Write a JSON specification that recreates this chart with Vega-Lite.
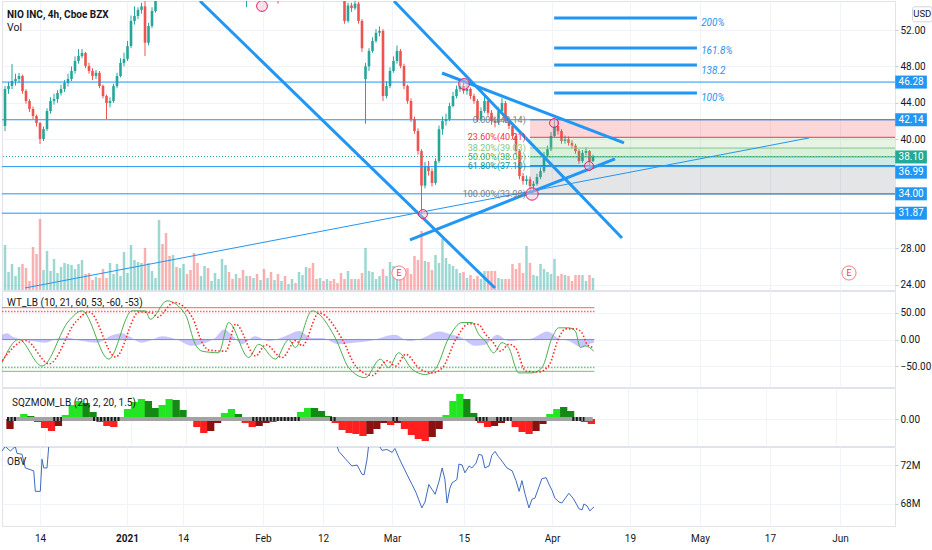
{
  "$schema": "https://vega.github.io/schema/vega-lite/v6.json",
  "padding": 0,
  "spacing": -1,
  "background": "#ffffff",
  "config": {
    "font": "Roboto, sans-serif",
    "view": {"stroke": "#e0e3eb"},
    "axis": {"title": null, "domain": false, "gridColor": "#f0f3fa", "labelColor": "#131722", "labelFontSize": 10, "labelFont": "Roboto, sans-serif", "tickColor": "#c9ccd4", "tickSize": 3, "labelOverlap": false, "labelFlush": false}
  },
  "resolve": {"scale": {"x": "independent", "y": "independent", "color": "independent", "size": "independent"}},
  "datasets": {
    "bars": [
      {"i":-10,"o":41.45,"h":45.85,"l":40.9,"c":45.52,"v":45},
      {"i":-9,"o":45.52,"h":46.3,"l":45.0,"c":45.85,"v":18},
      {"i":-8,"o":45.85,"h":48.27,"l":45.5,"c":46.4,"v":26},
      {"i":-7,"o":46.4,"h":47.2,"l":45.9,"c":46.62,"v":14},
      {"i":-6,"o":46.62,"h":47.28,"l":46.2,"c":46.95,"v":23},
      {"i":-5,"o":46.95,"h":47.1,"l":45.0,"c":45.3,"v":26},
      {"i":-4,"o":45.3,"h":45.5,"l":43.9,"c":44.2,"v":22},
      {"i":-3,"o":44.2,"h":44.4,"l":43.0,"c":43.32,"v":9},
      {"i":-2,"o":43.32,"h":43.6,"l":42.2,"c":42.55,"v":43},
      {"i":-1,"o":42.55,"h":42.7,"l":41.4,"c":41.78,"v":36},
      {"i":0,"o":41.78,"h":41.9,"l":39.48,"c":40.03,"v":71},
      {"i":1,"o":40.03,"h":41.4,"l":39.8,"c":41.12,"v":20},
      {"i":2,"o":41.12,"h":43.4,"l":40.9,"c":43.1,"v":39},
      {"i":3,"o":43.1,"h":44.6,"l":42.8,"c":44.2,"v":19},
      {"i":4,"o":44.2,"h":45.0,"l":43.8,"c":44.42,"v":31},
      {"i":5,"o":44.42,"h":45.4,"l":44.0,"c":45.08,"v":17},
      {"i":6,"o":45.08,"h":46.0,"l":44.8,"c":45.52,"v":23},
      {"i":7,"o":45.52,"h":46.5,"l":45.2,"c":46.18,"v":27},
      {"i":8,"o":46.18,"h":47.2,"l":45.8,"c":46.62,"v":26},
      {"i":9,"o":46.62,"h":48.0,"l":46.4,"c":47.5,"v":25},
      {"i":10,"o":47.5,"h":49.1,"l":47.2,"c":48.6,"v":21},
      {"i":11,"o":48.6,"h":49.9,"l":48.3,"c":49.15,"v":26},
      {"i":12,"o":49.15,"h":49.92,"l":48.9,"c":49.48,"v":30},
      {"i":13,"o":49.48,"h":49.6,"l":47.8,"c":48.05,"v":16},
      {"i":14,"o":48.05,"h":48.4,"l":47.2,"c":47.5,"v":17},
      {"i":15,"o":47.5,"h":47.8,"l":46.5,"c":46.95,"v":10},
      {"i":16,"o":46.95,"h":47.6,"l":46.6,"c":47.3,"v":13},
      {"i":17,"o":47.3,"h":47.5,"l":45.6,"c":45.85,"v":12},
      {"i":18,"o":45.85,"h":46.0,"l":44.5,"c":44.75,"v":21},
      {"i":19,"o":44.75,"h":44.9,"l":42.2,"c":43.98,"v":12},
      {"i":20,"o":43.98,"h":44.6,"l":43.5,"c":44.2,"v":27},
      {"i":21,"o":44.2,"h":46.1,"l":44.0,"c":45.85,"v":16},
      {"i":22,"o":45.85,"h":47.3,"l":45.6,"c":46.95,"v":26},
      {"i":23,"o":46.95,"h":48.9,"l":46.8,"c":48.38,"v":14},
      {"i":24,"o":48.38,"h":49.5,"l":48.0,"c":48.82,"v":38},
      {"i":25,"o":48.82,"h":50.8,"l":48.6,"c":50.24,"v":17},
      {"i":26,"o":50.24,"h":53.6,"l":50.0,"c":53.0,"v":45},
      {"i":27,"o":53.0,"h":54.6,"l":52.6,"c":53.54,"v":30},
      {"i":28,"o":53.54,"h":54.5,"l":53.2,"c":54.2,"v":28},
      {"i":29,"o":54.2,"h":55.0,"l":53.8,"c":54.6,"v":27},
      {"i":30,"o":54.6,"h":55.8,"l":49.15,"c":50.6,"v":42},
      {"i":31,"o":50.6,"h":52.8,"l":50.3,"c":52.44,"v":27},
      {"i":32,"o":52.44,"h":54.5,"l":52.2,"c":54.09,"v":19},
      {"i":33,"o":54.09,"h":56.8,"l":53.9,"c":56.0,"v":12},
      {"i":34,"o":56.0,"h":59.0,"l":55.8,"c":58.5,"v":70},
      {"i":35,"o":58.5,"h":59.2,"l":57.0,"c":57.6,"v":46},
      {"i":36,"o":57.6,"h":58.0,"l":56.0,"c":56.8,"v":57},
      {"i":37,"o":56.8,"h":57.2,"l":55.9,"c":56.3,"v":34},
      {"i":38,"o":56.3,"h":58.4,"l":56.1,"c":58.0,"v":35},
      {"i":39,"o":58.0,"h":58.5,"l":57.0,"c":57.4,"v":23},
      {"i":40,"o":57.4,"h":59.4,"l":57.2,"c":59.0,"v":22},
      {"i":41,"o":59.0,"h":61.0,"l":58.8,"c":60.5,"v":26},
      {"i":42,"o":60.5,"h":61.0,"l":59.6,"c":60.0,"v":16},
      {"i":43,"o":60.0,"h":60.4,"l":58.8,"c":59.2,"v":20},
      {"i":44,"o":59.2,"h":59.5,"l":57.0,"c":57.5,"v":37},
      {"i":45,"o":57.5,"h":58.0,"l":56.4,"c":57.0,"v":27},
      {"i":46,"o":57.0,"h":58.2,"l":56.8,"c":57.8,"v":14},
      {"i":47,"o":57.8,"h":59.1,"l":57.6,"c":58.8,"v":24},
      {"i":48,"o":58.8,"h":59.2,"l":57.7,"c":58.0,"v":22},
      {"i":49,"o":58.0,"h":58.7,"l":57.8,"c":58.4,"v":9},
      {"i":50,"o":58.4,"h":59.6,"l":58.2,"c":59.3,"v":17},
      {"i":51,"o":59.3,"h":60.3,"l":59.0,"c":59.9,"v":11},
      {"i":52,"o":59.9,"h":62.0,"l":59.7,"c":61.5,"v":31},
      {"i":53,"o":61.5,"h":63.0,"l":61.0,"c":62.3,"v":25},
      {"i":54,"o":62.3,"h":62.8,"l":60.8,"c":61.2,"v":18},
      {"i":55,"o":61.2,"h":61.5,"l":60.0,"c":60.3,"v":11},
      {"i":56,"o":60.3,"h":61.2,"l":59.9,"c":60.8,"v":16},
      {"i":57,"o":60.8,"h":61.0,"l":58.6,"c":59.0,"v":12},
      {"i":58,"o":59.0,"h":59.2,"l":56.5,"c":57.2,"v":20},
      {"i":59,"o":57.2,"h":58.4,"l":54.5,"c":57.9,"v":14},
      {"i":60,"o":57.9,"h":58.3,"l":56.9,"c":57.3,"v":14},
      {"i":61,"o":57.3,"h":59.0,"l":57.1,"c":58.6,"v":12},
      {"i":62,"o":58.6,"h":59.0,"l":57.6,"c":58.0,"v":16},
      {"i":63,"o":58.0,"h":59.3,"l":57.8,"c":58.9,"v":10},
      {"i":64,"o":58.9,"h":59.2,"l":57.4,"c":57.8,"v":21},
      {"i":65,"o":57.8,"h":58.7,"l":57.5,"c":58.3,"v":12},
      {"i":66,"o":58.3,"h":58.5,"l":56.8,"c":57.2,"v":18},
      {"i":67,"o":57.2,"h":58.1,"l":56.2,"c":57.8,"v":10},
      {"i":68,"o":57.8,"h":58.0,"l":54.9,"c":56.9,"v":16},
      {"i":69,"o":56.9,"h":57.8,"l":56.5,"c":57.5,"v":9},
      {"i":70,"o":57.5,"h":57.8,"l":56.3,"c":56.8,"v":14},
      {"i":71,"o":56.8,"h":57.6,"l":56.6,"c":57.3,"v":6},
      {"i":72,"o":57.3,"h":58.4,"l":57.0,"c":58.0,"v":11},
      {"i":73,"o":58.0,"h":58.2,"l":57.3,"c":57.6,"v":7},
      {"i":74,"o":57.6,"h":59.0,"l":57.4,"c":58.6,"v":18},
      {"i":75,"o":58.6,"h":59.6,"l":58.3,"c":59.2,"v":15},
      {"i":76,"o":59.2,"h":60.5,"l":59.0,"c":60.0,"v":23},
      {"i":77,"o":60.0,"h":60.4,"l":59.0,"c":59.4,"v":22},
      {"i":78,"o":59.4,"h":59.8,"l":58.2,"c":58.5,"v":27},
      {"i":79,"o":58.5,"h":58.7,"l":57.6,"c":58.0,"v":11},
      {"i":80,"o":58.0,"h":58.8,"l":57.8,"c":58.4,"v":12},
      {"i":81,"o":58.4,"h":58.6,"l":57.5,"c":57.8,"v":9},
      {"i":82,"o":57.8,"h":58.6,"l":57.6,"c":58.2,"v":11},
      {"i":83,"o":58.2,"h":58.4,"l":57.3,"c":57.6,"v":9},
      {"i":84,"o":57.6,"h":57.8,"l":56.7,"c":57.0,"v":11},
      {"i":85,"o":57.0,"h":57.2,"l":56.3,"c":56.6,"v":7},
      {"i":86,"o":56.6,"h":56.9,"l":55.4,"c":55.8,"v":17},
      {"i":87,"o":55.6,"h":56.0,"l":52.7,"c":53.0,"v":11},
      {"i":88,"o":53.0,"h":55.0,"l":52.8,"c":54.7,"v":19},
      {"i":89,"o":54.7,"h":55.0,"l":54.0,"c":54.4,"v":11},
      {"i":90,"o":54.4,"h":55.3,"l":54.2,"c":54.9,"v":11},
      {"i":91,"o":54.9,"h":55.1,"l":52.7,"c":53.0,"v":11},
      {"i":92,"o":53.0,"h":53.2,"l":49.6,"c":50.0,"v":17},
      {"i":93,"o":46.6,"h":48.4,"l":41.7,"c":48.0,"v":42},
      {"i":94,"o":48.0,"h":50.0,"l":47.5,"c":49.7,"v":19},
      {"i":95,"o":49.7,"h":51.2,"l":49.5,"c":50.8,"v":18},
      {"i":96,"o":50.8,"h":52.1,"l":50.6,"c":51.7,"v":11},
      {"i":97,"o":51.7,"h":52.4,"l":51.3,"c":51.9,"v":14},
      {"i":98,"o":51.9,"h":52.1,"l":44.2,"c":44.75,"v":21},
      {"i":99,"o":44.75,"h":46.4,"l":44.5,"c":45.85,"v":14},
      {"i":100,"o":45.85,"h":47.9,"l":45.6,"c":47.5,"v":28},
      {"i":101,"o":47.5,"h":49.1,"l":47.3,"c":48.6,"v":24},
      {"i":102,"o":48.6,"h":50.3,"l":48.3,"c":49.7,"v":16},
      {"i":103,"o":49.7,"h":49.9,"l":47.8,"c":48.05,"v":19},
      {"i":104,"o":48.05,"h":48.3,"l":45.5,"c":45.85,"v":21},
      {"i":105,"o":45.85,"h":46.0,"l":43.9,"c":44.2,"v":22},
      {"i":106,"o":44.2,"h":44.5,"l":41.9,"c":42.22,"v":16},
      {"i":107,"o":42.22,"h":42.5,"l":40.6,"c":40.9,"v":34},
      {"i":108,"o":40.9,"h":41.2,"l":38.3,"c":38.7,"v":30},
      {"i":109,"o":38.7,"h":38.9,"l":31.8,"c":34.9,"v":59},
      {"i":110,"o":34.9,"h":37.5,"l":34.6,"c":37.05,"v":29},
      {"i":111,"o":37.05,"h":37.6,"l":36.0,"c":36.5,"v":28},
      {"i":112,"o":36.5,"h":36.8,"l":34.8,"c":35.2,"v":20},
      {"i":113,"o":35.2,"h":37.9,"l":35.0,"c":37.6,"v":35},
      {"i":114,"o":37.6,"h":41.5,"l":37.4,"c":41.1,"v":27},
      {"i":115,"o":41.1,"h":42.5,"l":40.5,"c":42.0,"v":51},
      {"i":116,"o":42.0,"h":42.8,"l":41.5,"c":42.2,"v":32},
      {"i":117,"o":42.2,"h":44.0,"l":42.0,"c":43.65,"v":26},
      {"i":118,"o":43.65,"h":45.2,"l":43.5,"c":44.75,"v":24},
      {"i":119,"o":44.75,"h":45.9,"l":44.5,"c":45.5,"v":21},
      {"i":120,"o":45.5,"h":46.4,"l":45.2,"c":45.85,"v":17},
      {"i":121,"o":45.85,"h":46.5,"l":45.0,"c":45.3,"v":18},
      {"i":122,"o":45.3,"h":45.9,"l":44.9,"c":45.52,"v":12},
      {"i":123,"o":45.52,"h":45.7,"l":44.4,"c":44.75,"v":15},
      {"i":124,"o":44.75,"h":45.0,"l":43.9,"c":44.2,"v":11},
      {"i":125,"o":44.2,"h":44.4,"l":41.9,"c":42.22,"v":14},
      {"i":126,"o":42.22,"h":43.5,"l":42.0,"c":43.1,"v":11},
      {"i":127,"o":43.1,"h":44.8,"l":42.9,"c":44.2,"v":19},
      {"i":128,"o":44.2,"h":44.4,"l":42.6,"c":42.9,"v":19},
      {"i":129,"o":42.9,"h":43.2,"l":41.6,"c":42.0,"v":19},
      {"i":130,"o":42.0,"h":42.5,"l":41.3,"c":41.8,"v":19},
      {"i":131,"o":41.8,"h":43.5,"l":41.6,"c":43.1,"v":12},
      {"i":132,"o":43.1,"h":44.5,"l":42.9,"c":43.98,"v":11},
      {"i":133,"o":43.98,"h":44.2,"l":41.8,"c":42.0,"v":11},
      {"i":134,"o":42.0,"h":42.4,"l":41.1,"c":41.45,"v":11},
      {"i":135,"o":41.45,"h":41.7,"l":40.0,"c":40.35,"v":26},
      {"i":136,"o":40.35,"h":40.6,"l":38.3,"c":38.7,"v":21},
      {"i":137,"o":38.7,"h":38.9,"l":35.6,"c":35.95,"v":27},
      {"i":138,"o":35.95,"h":36.3,"l":35.0,"c":35.4,"v":17},
      {"i":139,"o":35.4,"h":36.0,"l":35.0,"c":35.6,"v":44},
      {"i":140,"o":35.6,"h":35.9,"l":33.98,"c":34.85,"v":27},
      {"i":141,"o":34.85,"h":35.4,"l":34.2,"c":35.1,"v":15},
      {"i":142,"o":35.1,"h":36.2,"l":34.9,"c":35.85,"v":14},
      {"i":143,"o":35.85,"h":36.9,"l":35.6,"c":36.5,"v":26},
      {"i":144,"o":36.5,"h":38.6,"l":36.3,"c":38.2,"v":21},
      {"i":145,"o":38.2,"h":39.3,"l":38.0,"c":38.9,"v":18},
      {"i":146,"o":38.9,"h":40.8,"l":38.7,"c":40.35,"v":16},
      {"i":147,"o":40.35,"h":42.14,"l":40.2,"c":41.45,"v":31},
      {"i":148,"o":41.45,"h":42.0,"l":40.5,"c":40.9,"v":14},
      {"i":149,"o":40.9,"h":41.1,"l":39.5,"c":39.8,"v":16},
      {"i":150,"o":39.8,"h":40.4,"l":39.5,"c":40.0,"v":15},
      {"i":151,"o":40.0,"h":40.3,"l":39.3,"c":39.6,"v":14},
      {"i":152,"o":39.6,"h":39.9,"l":39.0,"c":39.3,"v":9},
      {"i":153,"o":39.3,"h":39.5,"l":38.4,"c":38.7,"v":15},
      {"i":154,"o":38.7,"h":38.9,"l":37.3,"c":37.6,"v":15},
      {"i":155,"o":37.6,"h":38.8,"l":37.4,"c":38.5,"v":15},
      {"i":156,"o":38.5,"h":39.1,"l":38.2,"c":38.7,"v":9},
      {"i":157,"o":38.7,"h":38.8,"l":37.05,"c":37.6,"v":15},
      {"i":158,"o":37.6,"h":38.3,"l":37.5,"c":38.1,"v":12}
    ],
    "hl": [{"p":46.28},{"p":42.14},{"p":36.99},{"p":34.0},{"p":31.87}],
    "fibl": [
      {"lvl":"0","p":42.14,"t":"0.00%(42.14)"},
      {"lvl":"0.236","p":40.21,"t":"23.60%(40.21)"},
      {"lvl":"0.382","p":39.03,"t":"38.20%(39.03)"},
      {"lvl":"0.5","p":38.06,"t":"50.00%(38.06)"},
      {"lvl":"0.618","p":37.10,"t":"61.80%(37.10)"},
      {"lvl":"1","p":33.98,"t":"100.00%(33.98)"}
    ],
    "fibz": [
      {"lvl":"0.236","p1":42.14,"p2":40.21},
      {"lvl":"0.382","p1":40.21,"p2":39.03},
      {"lvl":"0.5","p1":39.03,"p2":38.06},
      {"lvl":"0.618","p1":38.06,"p2":37.10},
      {"lvl":"1","p1":37.10,"p2":33.98}
    ],
    "tl": [
      {"a":45.71,"pa":55.19,"b":130.0,"pb":23.65,"k":"thick"},
      {"a":101.14,"pa":55.19,"b":166.29,"pb":29.15,"k":"thick"},
      {"a":114.86,"pa":47.28,"b":166.86,"pb":39.59,"k":"thick"},
      {"a":105.71,"pa":28.93,"b":164.29,"pb":37.83,"k":"thick"},
      {"a":-4.29,"pa":23.65,"b":219.71,"pb":40.14,"k":"thin"}
    ],
    "fx": [
      {"p":53.32,"lp":52.72,"t":"200%"},
      {"p":50.03,"lp":49.73,"t":"161.8%"},
      {"p":48.16,"lp":47.5,"t":"138.2"},
      {"p":45.08,"lp":44.53,"t":"100%"}
    ],
    "tc": [
      {"i":63.43,"p":54.64,"k":"m"},
      {"i":121.14,"p":46.07,"k":"m"},
      {"i":109.43,"p":31.78,"k":"s"},
      {"i":140.57,"p":33.98,"k":"l"},
      {"i":146.86,"p":41.78,"k":"s"},
      {"i":156.86,"p":37.06,"k":"s"}
    ],
    "ern": [{"i":102.57,"p":25.3},{"i":231.14,"p":25.3}],
    "box": [
      {"t":"46.28","p":46.28,"k":"h"},
      {"t":"42.14","p":42.14,"k":"h"},
      {"t":"38.10","p":38.05,"k":"c"},
      {"t":"36.99","p":36.38,"k":"h"},
      {"t":"34.00","p":34.0,"k":"h"},
      {"t":"31.87","p":31.87,"k":"h"}
    ],
    "wt1": [
      {"i":-10.86,"v":-44},{"i":-6.09,"v":0},{"i":0.57,"v":-50},{"i":8.2,"v":35},{"i":12,"v":54},
      {"i":19.63,"v":-37},{"i":26.29,"v":54},{"i":30.09,"v":54},{"i":31.51,"v":38},{"i":36.29,"v":73},
      {"i":41.51,"v":47.5},{"i":44.37,"v":-9},{"i":46.29,"v":-22},{"i":51.06,"v":-25},{"i":53.91,"v":32},
      {"i":59.63,"v":-34},{"i":62.49,"v":-9},{"i":67.23,"v":-37},{"i":71.06,"v":0},{"i":72.94,"v":-15},
      {"i":77.71,"v":54},{"i":84.37,"v":3},{"i":88.2,"v":-53},{"i":92.94,"v":-72},{"i":97.23,"v":-37},
      {"i":99.63,"v":-53},{"i":102.49,"v":-25},{"i":106.29,"v":-56},{"i":110.09,"v":-66},{"i":112.94,"v":-56},
      {"i":116.77,"v":3},{"i":120.57,"v":32},{"i":123.43,"v":32},{"i":125.34,"v":10},{"i":127.23,"v":-3},
      {"i":129.63,"v":-25},{"i":132,"v":-6},{"i":133.91,"v":-15},{"i":136.77,"v":-63},{"i":140.57,"v":-63},
      {"i":143.43,"v":-53},{"i":146.29,"v":3},{"i":148.2,"v":22},{"i":151.06,"v":22},{"i":152.94,"v":16},
      {"i":154.37,"v":-15},{"i":155.8,"v":-12},{"i":158.2,"v":-22}
    ],
    "wt2": [
      {"i":-10.86,"v":-40},{"i":-4.1,"v":-2},{"i":2.6,"v":-46},{"i":10.2,"v":33},{"i":14,"v":52},
      {"i":21.6,"v":-33},{"i":28.3,"v":52},{"i":32.1,"v":50},{"i":33.5,"v":42},{"i":38.3,"v":70},
      {"i":43.5,"v":42},{"i":46.4,"v":-7},{"i":48.3,"v":-20},{"i":53.1,"v":-22},{"i":55.9,"v":29},
      {"i":61.6,"v":-31},{"i":64.5,"v":-10},{"i":69.2,"v":-34},{"i":73.1,"v":-2},{"i":74.9,"v":-12},
      {"i":79.7,"v":50},{"i":86.4,"v":0},{"i":90.2,"v":-50},{"i":94.9,"v":-68},{"i":99.2,"v":-40},
      {"i":101.6,"v":-50},{"i":104.5,"v":-28},{"i":108.3,"v":-54},{"i":112.1,"v":-63},{"i":114.9,"v":-54},
      {"i":118.8,"v":0},{"i":122.6,"v":30},{"i":125.4,"v":28},{"i":127.3,"v":10},{"i":129.2,"v":-3},
      {"i":131.6,"v":-22},{"i":134,"v":-9},{"i":135.9,"v":-16},{"i":138.8,"v":-60},{"i":142.6,"v":-61},
      {"i":145.4,"v":-49},{"i":148.3,"v":4},{"i":150.2,"v":20},{"i":153.1,"v":20},{"i":154.9,"v":12},
      {"i":156.4,"v":-10},{"i":158.2,"v":-15}
    ],
    "wd": [
      {"i":-10.86,"v":9},{"i":-9.4,"v":12},{"i":-8,"v":6},{"i":-5.1,"v":0},{"i":-1.4,"v":-4},
      {"i":1.4,"v":-6},{"i":4.9,"v":2},{"i":7.7,"v":4},{"i":12,"v":-3},{"i":16.3,"v":-6},
      {"i":20.6,"v":8},{"i":23.4,"v":12},{"i":25.4,"v":6},{"i":29.1,"v":-6},{"i":31.1,"v":-3},
      {"i":34.9,"v":6},{"i":39.1,"v":0},{"i":43.4,"v":-12},{"i":45.4,"v":-10},{"i":50,"v":3},
      {"i":52.6,"v":19},{"i":54.9,"v":8},{"i":57.7,"v":-9},{"i":61.4,"v":6},{"i":65.4,"v":-3},
      {"i":70,"v":6},{"i":74,"v":16},{"i":77.7,"v":3},{"i":80.6,"v":3},{"i":85.4,"v":-9},
      {"i":88.3,"v":-7},{"i":94,"v":-3},{"i":101.4,"v":9},{"i":105.4,"v":-3},{"i":109.1,"v":2},
      {"i":114,"v":15},{"i":117.7,"v":9},{"i":119.7,"v":6},{"i":124.3,"v":-12},{"i":127.1,"v":-10},
      {"i":130.6,"v":9},{"i":134,"v":-3},{"i":137.7,"v":0},{"i":140.6,"v":2},{"i":144.9,"v":15},
      {"i":148,"v":3},{"i":151.1,"v":-3},{"i":154.9,"v":-15},{"i":157.1,"v":-8},{"i":158.3,"v":-6}
    ],
    "sqz": [
      {"i":-10,"v":-10,"k":"r+"},{"i":-8,"v":2,"k":"g+"},{"i":-6,"v":5,"k":"g+"},{"i":-4,"v":3,"k":"g-"},
      {"i":-2,"v":-3,"k":"r-"},{"i":0,"v":-9,"k":"r-"},{"i":2,"v":-12,"k":"r-"},{"i":4,"v":-7,"k":"r+"},
      {"i":6,"v":4,"k":"g+"},{"i":8,"v":14,"k":"g+"},{"i":10,"v":18,"k":"g+"},{"i":12,"v":16,"k":"g-"},
      {"i":14,"v":7,"k":"g-"},{"i":16,"v":-3,"k":"r-"},{"i":18,"v":-7,"k":"r-"},{"i":20,"v":-8,"k":"r-"},
      {"i":22,"v":-2,"k":"r+"},{"i":24,"v":10,"k":"g+"},{"i":26,"v":17,"k":"g+"},{"i":28,"v":20,"k":"g+"},
      {"i":30,"v":18,"k":"g-"},{"i":32,"v":11,"k":"g-"},{"i":34,"v":14,"k":"g+"},{"i":36,"v":20,"k":"g+"},
      {"i":38,"v":19,"k":"g-"},{"i":40,"v":9,"k":"g-"},{"i":42,"v":2,"k":"g-"},{"i":44,"v":-8,"k":"r-"},
      {"i":46,"v":-14,"k":"r-"},{"i":48,"v":-12,"k":"r+"},{"i":50,"v":-4,"k":"r+"},{"i":52,"v":6,"k":"g+"},
      {"i":54,"v":10,"k":"g+"},{"i":56,"v":5,"k":"g-"},{"i":58,"v":-4,"k":"r-"},{"i":60,"v":-8,"k":"r-"},
      {"i":62,"v":-7,"k":"r+"},{"i":64,"v":-4,"k":"r+"},{"i":66,"v":-3,"k":"r-"},{"i":68,"v":-2,"k":"r+"},
      {"i":70,"v":-2,"k":"r+"},{"i":72,"v":2,"k":"g+"},{"i":74,"v":7,"k":"g+"},{"i":76,"v":11,"k":"g+"},
      {"i":78,"v":11,"k":"g-"},{"i":80,"v":8,"k":"g-"},{"i":82,"v":3,"k":"g-"},{"i":84,"v":-4,"k":"r-"},
      {"i":86,"v":-11,"k":"r-"},{"i":88,"v":-14,"k":"r-"},{"i":90,"v":-15,"k":"r-"},{"i":92,"v":-17,"k":"r-"},
      {"i":94,"v":-15,"k":"r+"},{"i":96,"v":-10,"k":"r+"},{"i":98,"v":-4,"k":"r+"},{"i":100,"v":-6,"k":"r-"},
      {"i":102,"v":-4,"k":"r+"},{"i":104,"v":-10,"k":"r-"},{"i":106,"v":-16,"k":"r-"},{"i":108,"v":-20,"k":"r-"},
      {"i":110,"v":-22,"k":"r-"},{"i":112,"v":-18,"k":"r+"},{"i":114,"v":-10,"k":"r+"},{"i":116,"v":4,"k":"g+"},
      {"i":118,"v":18,"k":"g+"},{"i":120,"v":25,"k":"g+"},{"i":122,"v":20,"k":"g-"},{"i":124,"v":6,"k":"g-"},
      {"i":126,"v":-4,"k":"r-"},{"i":128,"v":-8,"k":"r-"},{"i":130,"v":-7,"k":"r+"},{"i":132,"v":-4,"k":"r+"},
      {"i":134,"v":-2,"k":"r+"},{"i":136,"v":-8,"k":"r-"},{"i":138,"v":-13,"k":"r-"},{"i":140,"v":-15,"k":"r-"},
      {"i":142,"v":-12,"k":"r+"},{"i":144,"v":-5,"k":"r+"},{"i":146,"v":5,"k":"g+"},{"i":148,"v":10,"k":"g+"},
      {"i":150,"v":12,"k":"g-"},{"i":152,"v":8,"k":"g-"},{"i":154,"v":2,"k":"g-"},{"i":156,"v":-3,"k":"r-"},
      {"i":158,"v":-5,"k":"r-"}
    ],
    "sqon": [
      {"a":-10.86,"b":-8},{"a":2.5,"b":5},{"a":14,"b":22},{"a":60,"b":74},{"a":82.5,"b":84.5},
      {"a":100.5,"b":102.5},{"a":124.5,"b":128},{"a":130.5,"b":135},{"a":152.5,"b":156}
    ],
    "obv": [
      {"i":-10.86,"v":73.44},{"i":-9.91,"v":73.9},{"i":-8.49,"v":73.44},{"i":-7.06,"v":73.9},{"i":-6.57,"v":73.2},
      {"i":-5.14,"v":73.1},{"i":-4.2,"v":71.7},{"i":-1.8,"v":71.4},{"i":-1.34,"v":69.3},{"i":0.09,"v":69.3},
      {"i":0.57,"v":72.6},{"i":1.06,"v":71.7},{"i":2,"v":71.7},{"i":2.49,"v":73.9},{"i":3.43,"v":75.5},
      {"i":20,"v":80},{"i":40,"v":84},{"i":60,"v":82},{"i":75,"v":79},{"i":83,"v":75.5},
      {"i":84.9,"v":73.9},{"i":85.4,"v":73.4},{"i":87.1,"v":72.7},{"i":89.1,"v":71.9},{"i":90.6,"v":72.0},
      {"i":92,"v":71.05},{"i":92.6,"v":71.0},{"i":93.4,"v":72.5},{"i":94,"v":74.3},{"i":96.9,"v":74.0},
      {"i":97.7,"v":73.5},{"i":99.1,"v":73.6},{"i":100.6,"v":73.3},{"i":101.4,"v":73.7},{"i":102.6,"v":72.7},
      {"i":103.4,"v":72.1},{"i":104.9,"v":71.0},{"i":106.3,"v":70.0},{"i":107.4,"v":69.2},{"i":109.1,"v":67.6},
      {"i":110,"v":68.2},{"i":111.1,"v":70.0},{"i":112,"v":69.5},{"i":112.9,"v":69.0},{"i":114,"v":70.3},
      {"i":114.9,"v":71.7},{"i":115.7,"v":70.5},{"i":116.3,"v":68.1},{"i":117.1,"v":69.6},{"i":117.7,"v":70.15},
      {"i":119.1,"v":70.5},{"i":119.7,"v":72.1},{"i":120.6,"v":72.0},{"i":121.4,"v":71.2},{"i":122.6,"v":71.9},
      {"i":123.4,"v":71.7},{"i":124.6,"v":72.2},{"i":125.4,"v":73.1},{"i":126.3,"v":73.0},{"i":127.1,"v":71.7},
      {"i":128.3,"v":71.9},{"i":129.1,"v":73.0},{"i":130,"v":73.4},{"i":130.9,"v":72.9},{"i":132,"v":72.4},
      {"i":133.4,"v":71.7},{"i":134.9,"v":71.4},{"i":136,"v":70.4},{"i":136.9,"v":69.3},{"i":137.7,"v":70.4},
      {"i":138.6,"v":69.0},{"i":139.7,"v":67.6},{"i":140.6,"v":68.5},{"i":141.4,"v":68.6},{"i":142.6,"v":69.8},
      {"i":143.4,"v":70.6},{"i":144.6,"v":70.7},{"i":145.4,"v":70.05},{"i":146.3,"v":69.4},{"i":147.1,"v":68.6},
      {"i":148.3,"v":68.2},{"i":149.1,"v":68.1},{"i":150.3,"v":68.7},{"i":151.1,"v":69.1},{"i":152.3,"v":68.6},
      {"i":153.1,"v":68.1},{"i":154,"v":67.5},{"i":154.9,"v":67.4},{"i":155.4,"v":68.0},{"i":156.3,"v":67.8},
      {"i":157.1,"v":67.3},{"i":158.3,"v":67.7}
    ]
  },
  "vconcat": [
    {
      "width": 893,
      "height": 289,
      "resolve": {"scale": {"y": "independent"}},
      "layer": [
        {
          "data": {"name": "bars"},
          "mark": {"type": "rule", "strokeWidth": 2.5, "opacity": 0.45, "clip": true},
          "encoding": {
            "x": {"field": "i", "type": "quantitative", "scale": {"domain": [-10.86, 244.29]}, "axis": {"values": [0, 24.86, 40.86, 63.71, 80.86, 100.57, 121.14, 146.29, 168.57, 188.57, 208.57, 228.57], "labels": false, "ticks": false, "grid": true, "minExtent": 0, "maxExtent": 0}},
            "y": {"field": "v", "type": "quantitative", "scale": {"domain": [0, 289]}, "axis": null},
            "y2": {"datum": 0},
            "color": {"condition": {"test": "datum.c >= datum.o", "value": "#26a69a"}, "value": "#ef5350"}
          }
        },
        {
          "layer": [
            {
              "data": {"name": "bars"},
              "mark": {"type": "rule", "strokeWidth": 1, "clip": true},
              "encoding": {
                "x": {"field": "i", "type": "quantitative", "scale": {"domain": [-10.86, 244.29]}},
                "y": {"field": "l", "type": "quantitative", "scale": {"domain": [23.43, 55.19], "zero": false}, "axis": {"orient": "right", "values": [24, 28, 40, 44, 48, 52], "format": ".2f", "grid": true, "labelPadding": 2}},
                "y2": {"field": "h"},
                "color": {"condition": {"test": "datum.c >= datum.o", "value": "#26a69a"}, "value": "#ef5350"}
              }
            },
            {
              "data": {"name": "bars"},
              "mark": {"type": "rule", "strokeWidth": 2.6, "clip": true},
              "encoding": {
                "x": {"field": "i", "type": "quantitative", "scale": {"domain": [-10.86, 244.29]}},
                "y": {"field": "o", "type": "quantitative", "scale": {"domain": [23.43, 55.19], "zero": false}},
                "y2": {"field": "c"},
                "color": {"condition": {"test": "datum.c >= datum.o", "value": "#26a69a"}, "value": "#ef5350"}
              }
            },
            {
              "data": {"name": "fibz"},
              "mark": {"type": "rect", "opacity": 0.2, "clip": true},
              "encoding": {
                "x": {"datum": 140, "scale": {"domain": [-10.86, 244.29]}},
                "x2": {"datum": 244.29},
                "y": {"field": "p1", "type": "quantitative", "scale": {"domain": [23.43, 55.19], "zero": false}},
                "y2": {"field": "p2"},
                "color": {"field": "lvl", "type": "nominal", "scale": {"domain": ["0", "0.236", "0.382", "0.5", "0.618", "1"], "range": ["#787b86", "#f23645", "#81c784", "#4caf50", "#089981", "#787b86"]}, "legend": null}
              }
            },
            {
              "data": {"name": "fibl"},
              "mark": {"type": "rule", "strokeWidth": 1, "clip": true},
              "encoding": {
                "x": {"datum": 140, "scale": {"domain": [-10.86, 244.29]}},
                "x2": {"datum": 244.29},
                "y": {"field": "p", "type": "quantitative", "scale": {"domain": [23.43, 55.19], "zero": false}},
                "color": {"field": "lvl", "type": "nominal", "scale": {"domain": ["0", "0.236", "0.382", "0.5", "0.618", "1"], "range": ["#787b86", "#f23645", "#81c784", "#4caf50", "#089981", "#787b86"]}, "legend": null}
              }
            },
            {
              "data": {"name": "hl"},
              "mark": {"type": "rule", "strokeWidth": 1, "color": "#2196f3", "clip": true},
              "encoding": {
                "y": {"field": "p", "type": "quantitative", "scale": {"domain": [23.43, 55.19], "zero": false}}
              }
            },
            {
              "data": {"values": [{"p": 38.1}]},
              "mark": {"type": "rule", "strokeWidth": 1, "color": "#26a69a", "strokeDash": [1, 2], "clip": true},
              "encoding": {
                "y": {"field": "p", "type": "quantitative", "scale": {"domain": [23.43, 55.19], "zero": false}}
              }
            },
            {
              "data": {"name": "tl"},
              "mark": {"type": "rule", "color": "#2196f3", "clip": true},
              "encoding": {
                "x": {"field": "a", "type": "quantitative", "scale": {"domain": [-10.86, 244.29]}},
                "x2": {"field": "b"},
                "y": {"field": "pa", "type": "quantitative", "scale": {"domain": [23.43, 55.19], "zero": false}},
                "y2": {"field": "pb"},
                "strokeWidth": {"condition": {"test": "datum.k == 'thin'", "value": 1}, "value": 3}
              }
            },
            {
              "data": {"name": "fx"},
              "mark": {"type": "rule", "color": "#2196f3", "strokeWidth": 3, "clip": true},
              "encoding": {
                "x": {"datum": 146.9, "scale": {"domain": [-10.86, 244.29]}},
                "x2": {"datum": 187.7},
                "y": {"field": "p", "type": "quantitative", "scale": {"domain": [23.43, 55.19], "zero": false}}
              }
            },
            {
              "data": {"name": "fx"},
              "mark": {"type": "text", "color": "#2196f3", "fontStyle": "italic", "fontSize": 10, "align": "left", "baseline": "middle"},
              "encoding": {
                "x": {"datum": 188.9, "scale": {"domain": [-10.86, 244.29]}},
                "y": {"field": "lp", "type": "quantitative", "scale": {"domain": [23.43, 55.19], "zero": false}},
                "text": {"field": "t"}
              }
            },
            {
              "data": {"name": "fibl"},
              "mark": {"type": "text", "fontSize": 9, "align": "right", "baseline": "middle"},
              "encoding": {
                "x": {"datum": 138.8, "scale": {"domain": [-10.86, 244.29]}},
                "y": {"field": "p", "type": "quantitative", "scale": {"domain": [23.43, 55.19], "zero": false}},
                "text": {"field": "t"},
                "color": {"field": "lvl", "type": "nominal", "scale": {"domain": ["0", "0.236", "0.382", "0.5", "0.618", "1"], "range": ["#787b86", "#f23645", "#81c784", "#4caf50", "#089981", "#787b86"]}, "legend": null}
              }
            },
            {
              "data": {"name": "tc"},
              "mark": {"type": "point", "shape": "circle", "filled": false, "fill": "#f8bbd0", "fillOpacity": 0.45, "stroke": "#e91e63", "strokeWidth": 1, "clip": true},
              "encoding": {
                "x": {"field": "i", "type": "quantitative", "scale": {"domain": [-10.86, 244.29]}},
                "y": {"field": "p", "type": "quantitative", "scale": {"domain": [23.43, 55.19], "zero": false}},
                "size": {"field": "k", "type": "nominal", "scale": {"domain": ["s", "m", "l"], "range": [79, 154, 254]}, "legend": null}
              }
            },
            {
              "data": {"name": "ern"},
              "mark": {"type": "point", "shape": "circle", "filled": true, "fill": "#ffffff", "stroke": "#f77c80", "strokeWidth": 1, "size": 200, "opacity": 1},
              "encoding": {
                "x": {"field": "i", "type": "quantitative", "scale": {"domain": [-10.86, 244.29]}},
                "y": {"field": "p", "type": "quantitative", "scale": {"domain": [23.43, 55.19], "zero": false}}
              }
            },
            {
              "data": {"name": "ern"},
              "mark": {"type": "text", "text": "E", "fontSize": 9, "color": "#f23645", "align": "center", "baseline": "middle"},
              "encoding": {
                "x": {"field": "i", "type": "quantitative", "scale": {"domain": [-10.86, 244.29]}},
                "y": {"field": "p", "type": "quantitative", "scale": {"domain": [23.43, 55.19], "zero": false}}
              }
            },
            {
              "data": {"values": [{"t": "NIO INC, 4h, Cboe BZX", "i": -9.43, "p": 53.65}]},
              "mark": {"type": "text", "fontSize": 10, "fontWeight": "bold", "color": "#131722", "align": "left", "baseline": "middle"},
              "encoding": {
                "x": {"field": "i", "type": "quantitative", "scale": {"domain": [-10.86, 244.29]}},
                "y": {"field": "p", "type": "quantitative", "scale": {"domain": [23.43, 55.19], "zero": false}},
                "text": {"field": "t"}
              }
            },
            {
              "data": {"values": [{"t": "Vol", "i": -9.43, "p": 52.17}]},
              "mark": {"type": "text", "fontSize": 10.5, "color": "#131722", "align": "left", "baseline": "middle"},
              "encoding": {
                "x": {"field": "i", "type": "quantitative", "scale": {"domain": [-10.86, 244.29]}},
                "y": {"field": "p", "type": "quantitative", "scale": {"domain": [23.43, 55.19], "zero": false}},
                "text": {"field": "t"}
              }
            },
            {
              "data": {"name": "box"},
              "mark": {"type": "rule", "strokeWidth": 13, "clip": false},
              "encoding": {
                "x": {"datum": 244.35, "scale": {"domain": [-10.86, 244.29]}},
                "x2": {"datum": 253.4},
                "y": {"field": "p", "type": "quantitative", "scale": {"domain": [23.43, 55.19], "zero": false}},
                "color": {"condition": {"test": "datum.k == 'c'", "value": "#22ab94"}, "value": "#2196f3"}
              }
            },
            {
              "data": {"name": "box"},
              "mark": {"type": "text", "fontSize": 10, "color": "#ffffff", "align": "center", "baseline": "middle", "clip": false},
              "encoding": {
                "x": {"datum": 248.9, "scale": {"domain": [-10.86, 244.29]}},
                "y": {"field": "p", "type": "quantitative", "scale": {"domain": [23.43, 55.19], "zero": false}},
                "text": {"field": "t"}
              }
            },
            {
              "data": {"values": [{"t": "USD"}]},
              "mark": {"type": "rect", "fill": "#ffffff", "stroke": "#d1d4dc", "strokeWidth": 1, "cornerRadius": 2, "clip": false},
              "encoding": {
                "x": {"datum": 249.3, "scale": {"domain": [-10.86, 244.29]}},
                "x2": {"datum": 254.9},
                "y": {"datum": 54.55, "scale": {"domain": [23.43, 55.19], "zero": false}},
                "y2": {"datum": 52.9}
              }
            },
            {
              "data": {"values": [{"t": "USD"}]},
              "mark": {"type": "text", "fontSize": 9.5, "color": "#131722", "align": "center", "baseline": "middle", "clip": false},
              "encoding": {
                "x": {"datum": 252.1, "scale": {"domain": [-10.86, 244.29]}},
                "y": {"datum": 53.72, "scale": {"domain": [23.43, 55.19], "zero": false}},
                "text": {"field": "t"}
              }
            }
          ]
        }
      ]
    },
    {
      "width": 893,
      "height": 96,
      "layer": [
        {
          "data": {"values": [{"v": 60}, {"v": -60}]},
          "mark": {"type": "rule", "strokeWidth": 1, "opacity": 0.8},
          "encoding": {
            "x": {"datum": -10.86, "scale": {"domain": [-10.86, 244.29]}, "axis": {"values": [0, 24.86, 40.86, 63.71, 80.86, 100.57, 121.14, 146.29, 168.57, 188.57, 208.57, 228.57], "labels": false, "ticks": false, "grid": true, "minExtent": 0, "maxExtent": 0}},
            "x2": {"datum": 158.4},
            "y": {"field": "v", "type": "quantitative", "scale": {"domain": [-89.6, 91.5]}, "axis": {"orient": "right", "values": [-50, 0, 50], "format": ".2f", "grid": true, "labelPadding": 2}},
            "color": {"condition": {"test": "datum.v > 0", "value": "#ff3b3b"}, "value": "#4caf50"}
          }
        },
        {
          "data": {"values": [{"v": 53}, {"v": -53}]},
          "mark": {"type": "rule", "strokeWidth": 1.5, "strokeDash": [1.5, 1.5], "opacity": 0.8},
          "encoding": {
            "x": {"datum": -10.86, "scale": {"domain": [-10.86, 244.29]}},
            "x2": {"datum": 158.4},
            "y": {"field": "v", "type": "quantitative", "scale": {"domain": [-89.6, 91.5]}},
            "color": {"condition": {"test": "datum.v > 0", "value": "#ff3b3b"}, "value": "#4caf50"}
          }
        },
        {
          "data": {"name": "wd"},
          "mark": {"type": "area", "color": "#9d97fb", "opacity": 0.55, "interpolate": "monotone", "clip": true},
          "encoding": {
            "x": {"field": "i", "type": "quantitative", "scale": {"domain": [-10.86, 244.29]}},
            "y": {"field": "v", "type": "quantitative", "scale": {"domain": [-89.6, 91.5]}},
            "y2": {"datum": 0}
          }
        },
        {
          "data": {"values": [{"v": 0}]},
          "mark": {"type": "rule", "strokeWidth": 1, "color": "#6f6cf2", "opacity": 0.8},
          "encoding": {
            "x": {"datum": -10.86, "scale": {"domain": [-10.86, 244.29]}},
            "x2": {"datum": 158.4},
            "y": {"field": "v", "type": "quantitative", "scale": {"domain": [-89.6, 91.5]}}
          }
        },
        {
          "data": {"name": "wt1"},
          "mark": {"type": "line", "color": "#4caf50", "strokeWidth": 1, "interpolate": "monotone", "clip": true},
          "encoding": {
            "x": {"field": "i", "type": "quantitative", "scale": {"domain": [-10.86, 244.29]}},
            "y": {"field": "v", "type": "quantitative", "scale": {"domain": [-89.6, 91.5]}}
          }
        },
        {
          "data": {"name": "wt2"},
          "mark": {"type": "line", "color": "#ff2a2a", "strokeWidth": 1.6, "strokeDash": [1.5, 2], "interpolate": "monotone", "clip": true},
          "encoding": {
            "x": {"field": "i", "type": "quantitative", "scale": {"domain": [-10.86, 244.29]}},
            "y": {"field": "v", "type": "quantitative", "scale": {"domain": [-89.6, 91.5]}}
          }
        },
        {
          "data": {"values": [{"t": "WT_LB (10, 21, 60, 53, -60, -53)", "i": -9.43, "v": 68.9}]},
          "mark": {"type": "text", "fontSize": 10, "color": "#131722", "align": "left", "baseline": "middle"},
          "encoding": {
            "x": {"field": "i", "type": "quantitative", "scale": {"domain": [-10.86, 244.29]}},
            "y": {"field": "v", "type": "quantitative", "scale": {"domain": [-89.6, 91.5]}},
            "text": {"field": "t"}
          }
        }
      ]
    },
    {
      "width": 893,
      "height": 58,
      "layer": [
        {
          "data": {"name": "sqz"},
          "mark": {"type": "bar", "width": 7.3},
          "encoding": {
            "x": {"field": "i", "type": "quantitative", "scale": {"domain": [-10.86, 244.29]}, "axis": {"values": [0, 24.86, 40.86, 63.71, 80.86, 100.57, 121.14, 146.29, 168.57, 188.57, 208.57, 228.57], "labels": false, "ticks": false, "grid": true, "minExtent": 0, "maxExtent": 0}},
            "y": {"field": "v", "type": "quantitative", "scale": {"domain": [-27, 31]}, "axis": {"orient": "right", "values": [0], "format": ".2f", "grid": true, "labelPadding": 2}},
            "y2": {"datum": 0},
            "color": {"field": "k", "type": "nominal", "scale": {"domain": ["g+", "g-", "r-", "r+"], "range": ["#22e622", "#148a14", "#ff1f1f", "#8b1010"]}, "legend": null}
          }
        },
        {
          "data": {"values": [{"v": 0}]},
          "mark": {"type": "rule", "strokeWidth": 4, "color": "#a3a3a3"},
          "encoding": {
            "x": {"datum": -10.86, "scale": {"domain": [-10.86, 244.29]}},
            "x2": {"datum": 158.4},
            "y": {"field": "v", "type": "quantitative", "scale": {"domain": [-27, 31]}}
          }
        },
        {
          "data": {"name": "sqon"},
          "mark": {"type": "rule", "strokeWidth": 4, "color": "#1a1a1a", "strokeDash": [2, 1.5], "clip": true},
          "encoding": {
            "x": {"field": "a", "type": "quantitative", "scale": {"domain": [-10.86, 244.29]}},
            "x2": {"field": "b"},
            "y": {"datum": 0, "scale": {"domain": [-27, 31]}}
          }
        },
        {
          "data": {"values": [{"t": "SQZMOM_LB (20, 2, 20, 1.5)", "i": -9.43, "v": 16}]},
          "mark": {"type": "text", "fontSize": 10, "color": "#131722", "align": "left", "baseline": "middle"},
          "encoding": {
            "x": {"field": "i", "type": "quantitative", "scale": {"domain": [-10.86, 244.29]}},
            "y": {"field": "v", "type": "quantitative", "scale": {"domain": [-27, 31]}},
            "text": {"field": "t"}
          }
        }
      ]
    },
    {
      "width": 893,
      "height": 79,
      "layer": [
        {
          "data": {"name": "obv"},
          "mark": {"type": "line", "color": "#3e6bc0", "strokeWidth": 1, "clip": true},
          "encoding": {
            "x": {"field": "i", "type": "quantitative", "scale": {"domain": [-10.86, 244.29]}, "axis": {"values": [0, 24.86, 40.86, 63.71, 80.86, 100.57, 121.14, 146.29, 168.57, 188.57, 208.57, 228.57], "ticks": false, "grid": true, "labelPadding": 7, "labelFontWeight": {"condition": {"test": "datum.value > 20 && datum.value < 30", "value": "bold"}, "value": "normal"}, "labelExpr": "datum.value < 1 ? '14' : datum.value < 30 ? '2021' : datum.value < 50 ? '14' : datum.value < 70 ? 'Feb' : datum.value < 90 ? '12' : datum.value < 110 ? 'Mar' : datum.value < 130 ? '15' : datum.value < 155 ? 'Apr' : datum.value < 175 ? '19' : datum.value < 195 ? 'May' : datum.value < 215 ? '17' : 'Jun'"}},
            "y": {"field": "v", "type": "quantitative", "scale": {"domain": [65.74, 73.85]}, "axis": {"orient": "right", "values": [68, 72], "labelExpr": "datum.value + 'M'", "grid": true, "labelPadding": 2}}
          }
        },
        {
          "data": {"values": [{"t": "OBV", "i": -9.43, "v": 72.31}]},
          "mark": {"type": "text", "fontSize": 10, "color": "#131722", "align": "left", "baseline": "middle"},
          "encoding": {
            "x": {"field": "i", "type": "quantitative", "scale": {"domain": [-10.86, 244.29]}},
            "y": {"field": "v", "type": "quantitative", "scale": {"domain": [65.74, 73.85]}},
            "text": {"field": "t"}
          }
        }
      ]
    }
  ]
}
